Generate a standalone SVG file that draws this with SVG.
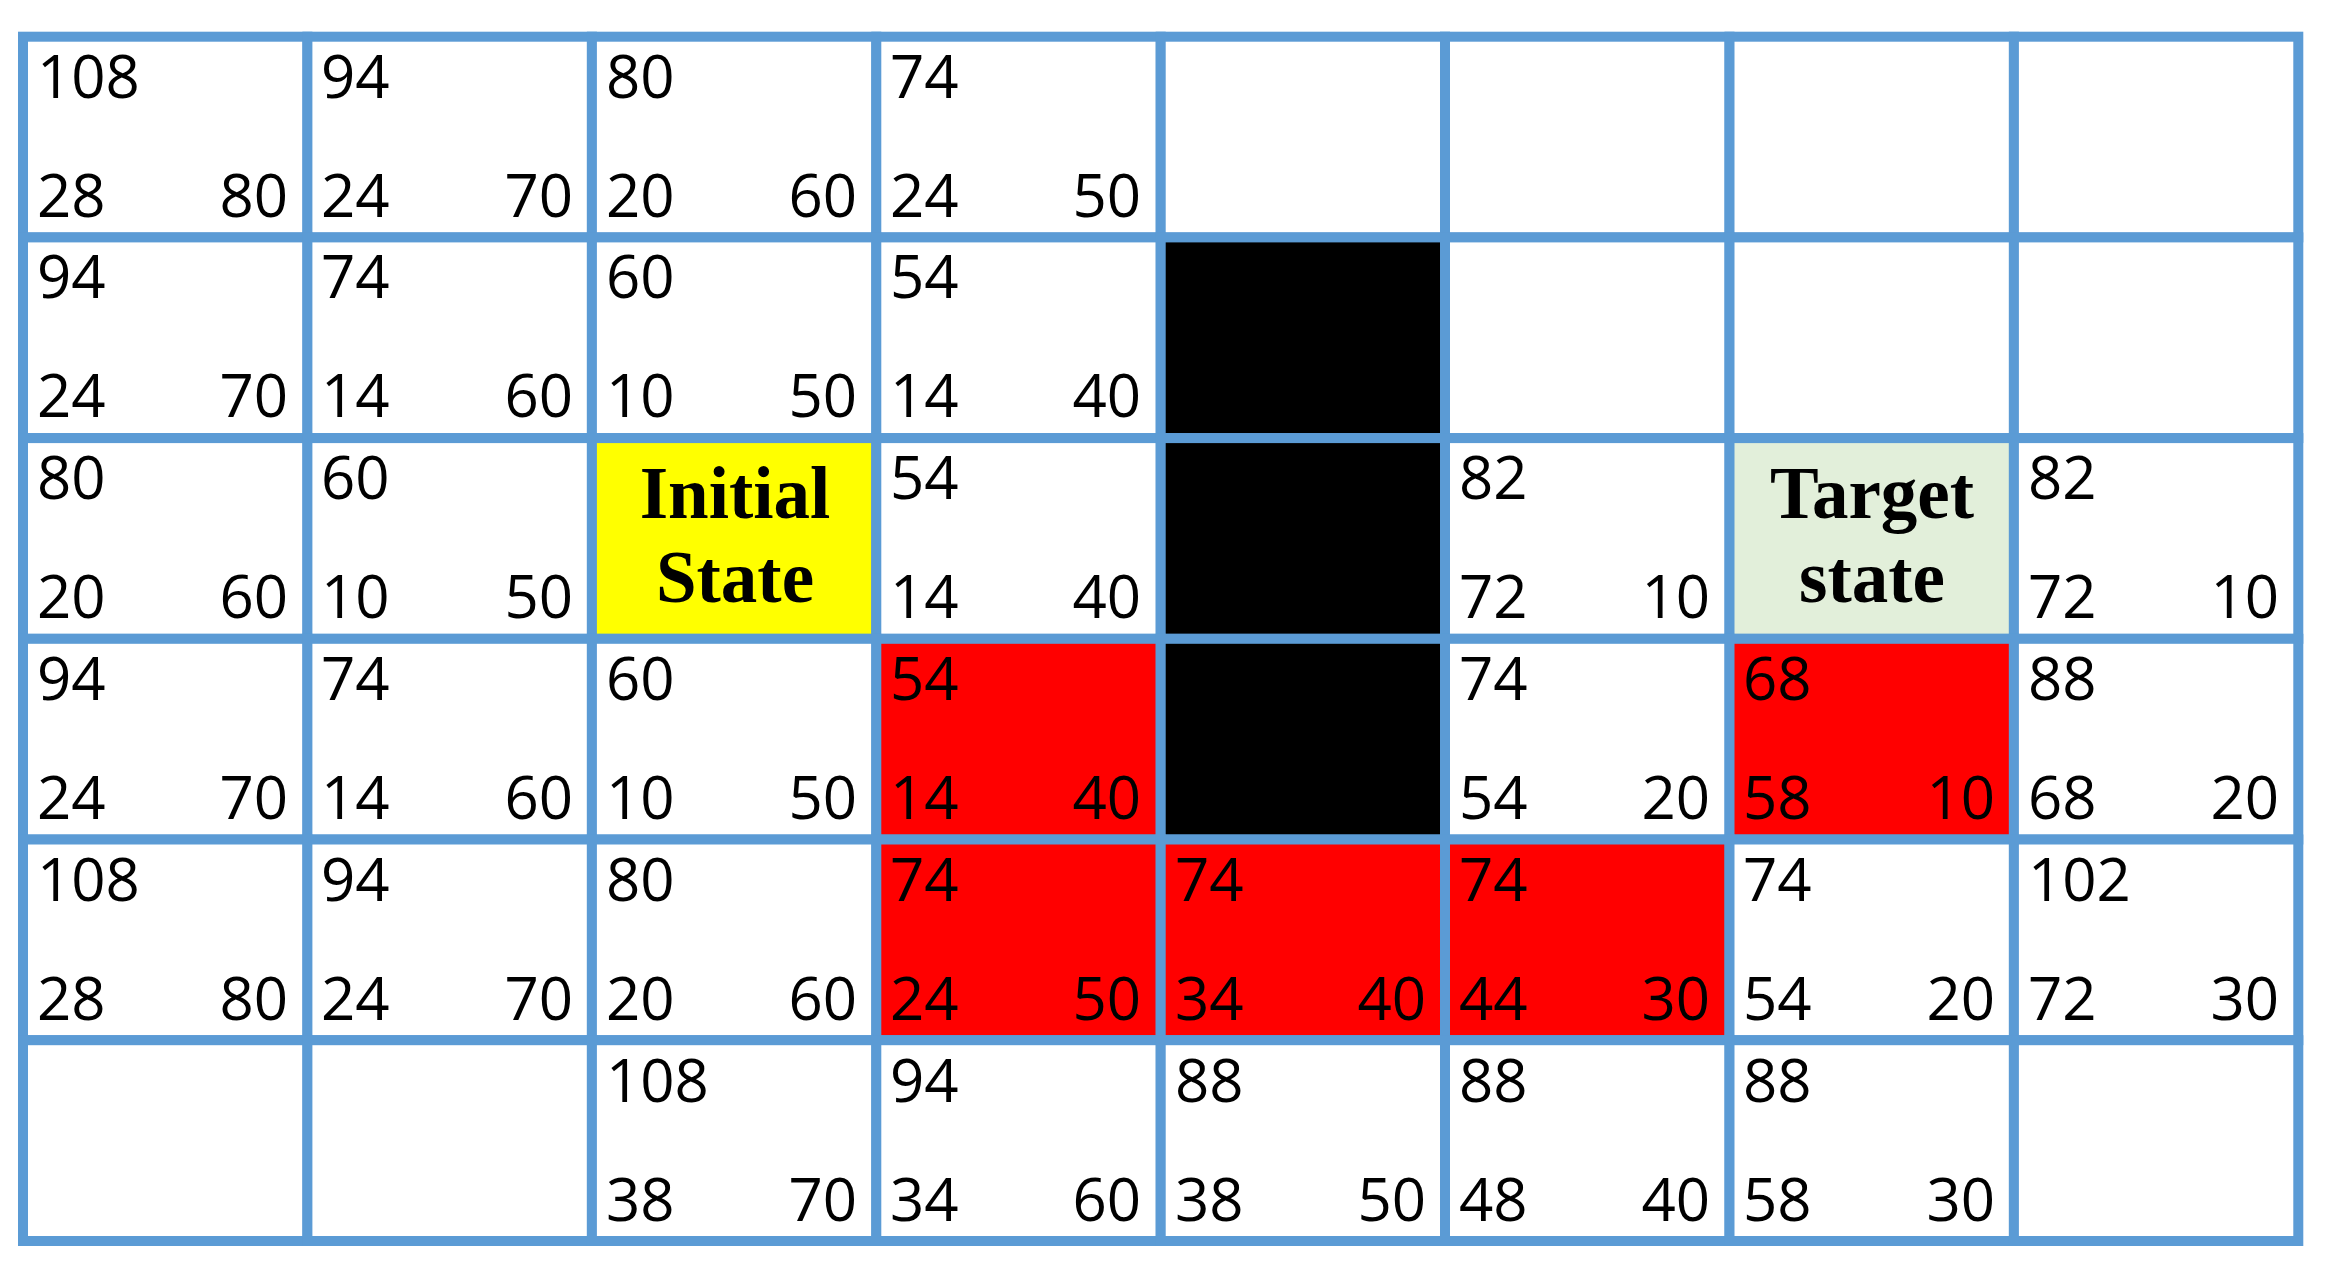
<svg xmlns="http://www.w3.org/2000/svg" width="2341" height="1282" viewBox="0 0 2341 1282">
<style>
.c{stroke:#5B9BD5;stroke-width:10;fill:#FFFFFF}
.red{fill:#FF0000}
.blk{fill:#000000}
.yel{fill:#FFFF00}
.grn{fill:#E2EFDA}
.n{font-family:"Open Sans","Liberation Sans",sans-serif;font-size:60px;fill:#000}
.e{text-anchor:end}
.lab{font-family:"Liberation Serif","Times New Roman",serif;font-weight:bold;font-size:73px;fill:#000;text-anchor:middle}
</style>
<rect x="0" y="0" width="2341" height="1282" fill="#FFFFFF"/>
<g id="r0">
<g id="c0-0"><rect class="c" x="23" y="36.7" width="284.4" height="200.7"/><text class="n" x="37" y="98">108</text><text class="n" x="37" y="217">28</text><text class="n e" x="288" y="217">80</text></g>
<g id="c0-1"><rect class="c" x="307.4" y="36.7" width="284.5" height="200.7"/><text class="n" x="321" y="98">94</text><text class="n" x="321" y="217">24</text><text class="n e" x="573" y="217">70</text></g>
<g id="c0-2"><rect class="c" x="591.9" y="36.7" width="284.4" height="200.7"/><text class="n" x="606" y="98">80</text><text class="n" x="606" y="217">20</text><text class="n e" x="857" y="217">60</text></g>
<g id="c0-3"><rect class="c" x="876.3" y="36.7" width="284.4" height="200.7"/><text class="n" x="890" y="98">74</text><text class="n" x="890" y="217">24</text><text class="n e" x="1141" y="217">50</text></g>
<g id="c0-4"><rect class="c" x="1160.7" y="36.7" width="284.3" height="200.7"/></g>
<g id="c0-5"><rect class="c" x="1445" y="36.7" width="284.5" height="200.7"/></g>
<g id="c0-6"><rect class="c" x="1729.5" y="36.7" width="284.4" height="200.7"/></g>
<g id="c0-7"><rect class="c" x="2013.9" y="36.7" width="284.4" height="200.7"/></g>
</g>
<g id="r1">
<g id="c1-0"><rect class="c" x="23" y="237.4" width="284.4" height="200.7"/><text class="n" x="37" y="298">94</text><text class="n" x="37" y="417">24</text><text class="n e" x="288" y="417">70</text></g>
<g id="c1-1"><rect class="c" x="307.4" y="237.4" width="284.5" height="200.7"/><text class="n" x="321" y="298">74</text><text class="n" x="321" y="417">14</text><text class="n e" x="573" y="417">60</text></g>
<g id="c1-2"><rect class="c" x="591.9" y="237.4" width="284.4" height="200.7"/><text class="n" x="606" y="298">60</text><text class="n" x="606" y="417">10</text><text class="n e" x="857" y="417">50</text></g>
<g id="c1-3"><rect class="c" x="876.3" y="237.4" width="284.4" height="200.7"/><text class="n" x="890" y="298">54</text><text class="n" x="890" y="417">14</text><text class="n e" x="1141" y="417">40</text></g>
<g id="c1-4"><rect class="c blk" x="1160.7" y="237.4" width="284.3" height="200.7"/></g>
<g id="c1-5"><rect class="c" x="1445" y="237.4" width="284.5" height="200.7"/></g>
<g id="c1-6"><rect class="c" x="1729.5" y="237.4" width="284.4" height="200.7"/></g>
<g id="c1-7"><rect class="c" x="2013.9" y="237.4" width="284.4" height="200.7"/></g>
</g>
<g id="r2">
<g id="c2-0"><rect class="c" x="23" y="438.1" width="284.4" height="200.7"/><text class="n" x="37" y="499">80</text><text class="n" x="37" y="618">20</text><text class="n e" x="288" y="618">60</text></g>
<g id="c2-1"><rect class="c" x="307.4" y="438.1" width="284.5" height="200.7"/><text class="n" x="321" y="499">60</text><text class="n" x="321" y="618">10</text><text class="n e" x="573" y="618">50</text></g>
<g id="c2-2"><rect class="c yel" x="591.9" y="438.1" width="284.4" height="200.7"/><text class="lab" x="735" y="518">Initial</text><text class="lab" x="735" y="602">State</text></g>
<g id="c2-3"><rect class="c" x="876.3" y="438.1" width="284.4" height="200.7"/><text class="n" x="890" y="499">54</text><text class="n" x="890" y="618">14</text><text class="n e" x="1141" y="618">40</text></g>
<g id="c2-4"><rect class="c blk" x="1160.7" y="438.1" width="284.3" height="200.7"/></g>
<g id="c2-5"><rect class="c" x="1445" y="438.1" width="284.5" height="200.7"/><text class="n" x="1459" y="499">82</text><text class="n" x="1459" y="618">72</text><text class="n e" x="1710" y="618">10</text></g>
<g id="c2-6"><rect class="c grn" x="1729.5" y="438.1" width="284.4" height="200.7"/><text class="lab" x="1872" y="518">Target</text><text class="lab" x="1872" y="602">state</text></g>
<g id="c2-7"><rect class="c" x="2013.9" y="438.1" width="284.4" height="200.7"/><text class="n" x="2028" y="499">82</text><text class="n" x="2028" y="618">72</text><text class="n e" x="2279" y="618">10</text></g>
</g>
<g id="r3">
<g id="c3-0"><rect class="c" x="23" y="638.8" width="284.4" height="200.7"/><text class="n" x="37" y="700">94</text><text class="n" x="37" y="819">24</text><text class="n e" x="288" y="819">70</text></g>
<g id="c3-1"><rect class="c" x="307.4" y="638.8" width="284.5" height="200.7"/><text class="n" x="321" y="700">74</text><text class="n" x="321" y="819">14</text><text class="n e" x="573" y="819">60</text></g>
<g id="c3-2"><rect class="c" x="591.9" y="638.8" width="284.4" height="200.7"/><text class="n" x="606" y="700">60</text><text class="n" x="606" y="819">10</text><text class="n e" x="857" y="819">50</text></g>
<g id="c3-3"><rect class="c red" x="876.3" y="638.8" width="284.4" height="200.7"/><text class="n" x="890" y="700">54</text><text class="n" x="890" y="819">14</text><text class="n e" x="1141" y="819">40</text></g>
<g id="c3-4"><rect class="c blk" x="1160.7" y="638.8" width="284.3" height="200.7"/></g>
<g id="c3-5"><rect class="c" x="1445" y="638.8" width="284.5" height="200.7"/><text class="n" x="1459" y="700">74</text><text class="n" x="1459" y="819">54</text><text class="n e" x="1710" y="819">20</text></g>
<g id="c3-6"><rect class="c red" x="1729.5" y="638.8" width="284.4" height="200.7"/><text class="n" x="1743" y="700">68</text><text class="n" x="1743" y="819">58</text><text class="n e" x="1995" y="819">10</text></g>
<g id="c3-7"><rect class="c" x="2013.9" y="638.8" width="284.4" height="200.7"/><text class="n" x="2028" y="700">88</text><text class="n" x="2028" y="819">68</text><text class="n e" x="2279" y="819">20</text></g>
</g>
<g id="r4">
<g id="c4-0"><rect class="c" x="23" y="839.5" width="284.4" height="200.7"/><text class="n" x="37" y="901">108</text><text class="n" x="37" y="1020">28</text><text class="n e" x="288" y="1020">80</text></g>
<g id="c4-1"><rect class="c" x="307.4" y="839.5" width="284.5" height="200.7"/><text class="n" x="321" y="901">94</text><text class="n" x="321" y="1020">24</text><text class="n e" x="573" y="1020">70</text></g>
<g id="c4-2"><rect class="c" x="591.9" y="839.5" width="284.4" height="200.7"/><text class="n" x="606" y="901">80</text><text class="n" x="606" y="1020">20</text><text class="n e" x="857" y="1020">60</text></g>
<g id="c4-3"><rect class="c red" x="876.3" y="839.5" width="284.4" height="200.7"/><text class="n" x="890" y="901">74</text><text class="n" x="890" y="1020">24</text><text class="n e" x="1141" y="1020">50</text></g>
<g id="c4-4"><rect class="c red" x="1160.7" y="839.5" width="284.3" height="200.7"/><text class="n" x="1175" y="901">74</text><text class="n" x="1175" y="1020">34</text><text class="n e" x="1426" y="1020">40</text></g>
<g id="c4-5"><rect class="c red" x="1445" y="839.5" width="284.5" height="200.7"/><text class="n" x="1459" y="901">74</text><text class="n" x="1459" y="1020">44</text><text class="n e" x="1710" y="1020">30</text></g>
<g id="c4-6"><rect class="c" x="1729.5" y="839.5" width="284.4" height="200.7"/><text class="n" x="1743" y="901">74</text><text class="n" x="1743" y="1020">54</text><text class="n e" x="1995" y="1020">20</text></g>
<g id="c4-7"><rect class="c" x="2013.9" y="839.5" width="284.4" height="200.7"/><text class="n" x="2028" y="901">102</text><text class="n" x="2028" y="1020">72</text><text class="n e" x="2279" y="1020">30</text></g>
</g>
<g id="r5">
<g id="c5-0"><rect class="c" x="23" y="1040.2" width="284.4" height="200.8"/></g>
<g id="c5-1"><rect class="c" x="307.4" y="1040.2" width="284.5" height="200.8"/></g>
<g id="c5-2"><rect class="c" x="591.9" y="1040.2" width="284.4" height="200.8"/><text class="n" x="606" y="1102">108</text><text class="n" x="606" y="1221">38</text><text class="n e" x="857" y="1221">70</text></g>
<g id="c5-3"><rect class="c" x="876.3" y="1040.2" width="284.4" height="200.8"/><text class="n" x="890" y="1102">94</text><text class="n" x="890" y="1221">34</text><text class="n e" x="1141" y="1221">60</text></g>
<g id="c5-4"><rect class="c" x="1160.7" y="1040.2" width="284.3" height="200.8"/><text class="n" x="1175" y="1102">88</text><text class="n" x="1175" y="1221">38</text><text class="n e" x="1426" y="1221">50</text></g>
<g id="c5-5"><rect class="c" x="1445" y="1040.2" width="284.5" height="200.8"/><text class="n" x="1459" y="1102">88</text><text class="n" x="1459" y="1221">48</text><text class="n e" x="1710" y="1221">40</text></g>
<g id="c5-6"><rect class="c" x="1729.5" y="1040.2" width="284.4" height="200.8"/><text class="n" x="1743" y="1102">88</text><text class="n" x="1743" y="1221">58</text><text class="n e" x="1995" y="1221">30</text></g>
<g id="c5-7"><rect class="c" x="2013.9" y="1040.2" width="284.4" height="200.8"/></g>
</g>
</svg>
